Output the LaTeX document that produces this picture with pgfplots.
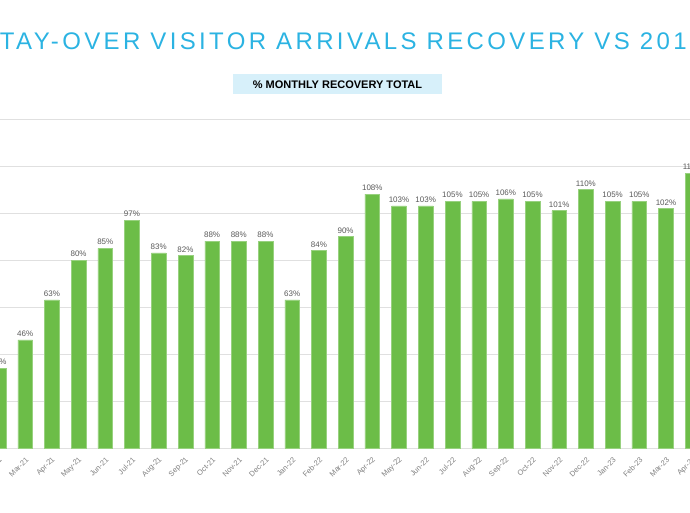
\documentclass[border=0pt]{standalone}
\usepackage{fontspec}
\setmainfont{Liberation Sans}
\usepackage{pgfplots}
\usepackage{pgfplotstable}
\pgfplotsset{compat=1.18}
\definecolor{bargreen}{HTML}{6CBD48}
\definecolor{titleblue}{HTML}{2BB3E2}
\definecolor{boxblue}{HTML}{D7F0FA}
\definecolor{labelgray}{HTML}{595959}
\definecolor{tickgray}{HTML}{7F7F7F}

\pgfplotstableread{
idx value
0 34
1 46
2 63
3 80
4 85
5 97
6 83
7 82
8 88
9 88
10 88
11 63
12 84
13 90
14 108
15 103
16 103
17 105
18 105
19 106
20 105
21 101
22 110
23 105
24 105
25 102
26 117
}\recovery

\begin{document}
\begin{tikzpicture}
\begin{axis}[
    at={(0pt,0pt)}, anchor=south west,
    scale only axis,
    x=26.7pt, y=2.35pt,
    xmin=-1, xmax=27,
    ymin=0, ymax=140,
    clip=false,
    ybar,
    bar width=14.7pt,
    axis line style={draw=none},
    major tick length=0pt,
    ytick={0,20,...,140},
    yticklabels={},
    ymajorgrids=true,
    grid style={color=black!12, line width=0.8pt},
    xtick={0,...,26},
    xticklabels={Feb-21,Mar-21,Apr-21,May-21,Jun-21,Jul-21,Aug-21,Sep-21,Oct-21,Nov-21,Dec-21,
        Jan-22,Feb-22,Mar-22,Apr-22,May-22,Jun-22,Jul-22,Aug-22,Sep-22,Oct-22,Nov-22,Dec-22,
        Jan-23,Feb-23,Mar-23,Apr-23},
    xticklabel style={rotate=45, anchor=east, font=\fontsize{7.5}{9}\selectfont,
        text=tickgray, inner sep=1pt, yshift=-9pt, xshift=-5pt},
    /pgf/number format/assume math mode=true,
    nodes near coords={\pgfmathprintnumber{\pgfplotspointmeta}\%},
    every node near coord/.append style={font=\fontsize{8}{9}\selectfont,
        text=labelgray, inner sep=3pt},
]
\addplot[fill=bargreen, draw=bargreen!70!white, line width=0.4pt] table[x=idx, y=value] {\recovery};
\end{axis}
% title and subtitle
\node[anchor=base, text=titleblue, font=\fontsize{24}{28}\selectfont\addfontfeature{LetterSpace=14}]
    at (370.2pt,398pt) {STAY-OVER VISITOR ARRIVALS RECOVERY VS 2019};
\node[fill=boxblue, minimum width=209pt, minimum height=20pt, inner sep=0pt,
    font=\bfseries\fontsize{11}{13}\selectfont]
    at (365.7pt,363.7pt) {\% MONTHLY RECOVERY TOTAL};
\pgfresetboundingbox
\path[use as bounding box] (28.2pt,-64pt) rectangle (718.2pt,448pt);
\end{tikzpicture}
\end{document}
